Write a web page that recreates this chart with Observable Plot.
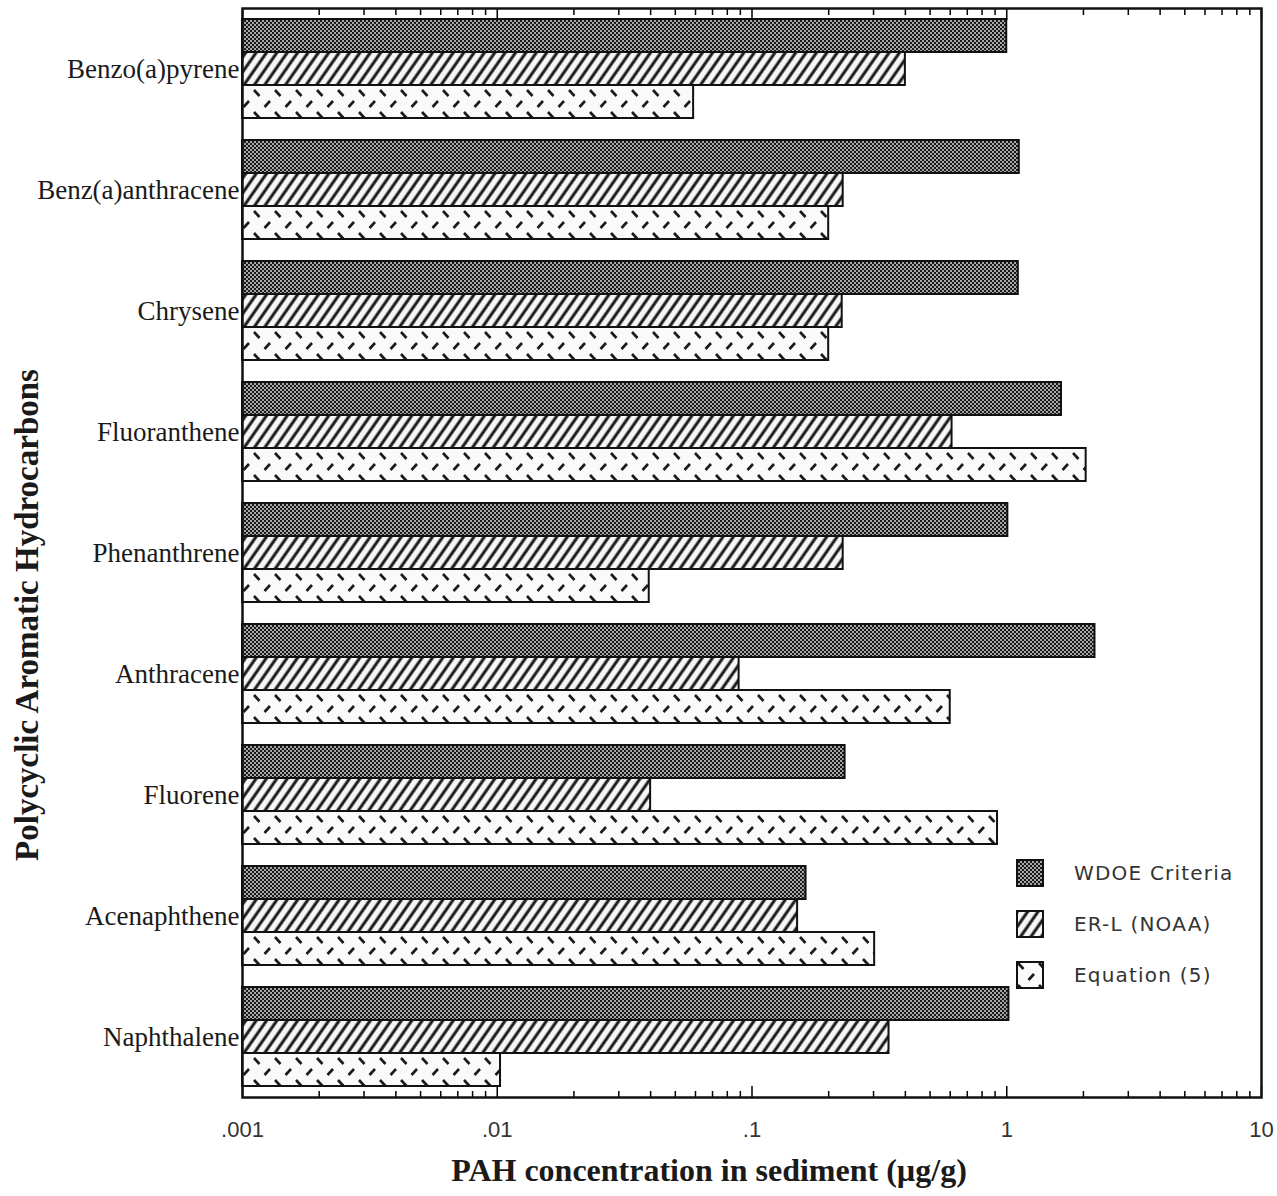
<!DOCTYPE html>
<html>
<head>
<meta charset="utf-8">
<script src="https://cdn.jsdelivr.net/npm/d3@7"></script>
<script src="https://cdn.jsdelivr.net/npm/@observablehq/plot@0.6"></script>
<style>
  body { margin: 0; background: #fff; }
  #wrap { position: relative; width: 1277px; height: 1196px; }
  #legend { position: absolute; left: 1016px; top: 847px; font-family: "DejaVu Sans", sans-serif; font-size: 20px; color: #333; letter-spacing: 1.2px; }
  .item { display: flex; align-items: center; height: 51px; }
  .item svg { margin-right: 30px; }
</style>
</head>
<body>
<svg width="0" height="0" style="position:absolute">
  <defs>
    <pattern id="pWDOE" patternUnits="userSpaceOnUse" width="4" height="4">
      <rect width="4" height="4" fill="#a6a6a6"></rect>
      <rect x="0" y="0" width="2" height="2" fill="#1a1a1a"></rect>
      <rect x="2" y="2" width="2" height="2" fill="#1a1a1a"></rect>
    </pattern>
    <pattern id="pERL" patternUnits="userSpaceOnUse" width="8.5" height="8.5" patternTransform="rotate(35)">
      <rect width="8.5" height="8.5" fill="#f6f6f6"></rect>
      <line x1="2" y1="0" x2="2" y2="8.5" stroke="#1a1a1a" stroke-width="3"></line>
    </pattern>
    <pattern id="pEQ" patternUnits="userSpaceOnUse" width="21" height="22">
      <rect width="21" height="22" fill="#fafafa"></rect>
      <line x1="2" y1="2" x2="7.5" y2="8" stroke="#1a1a1a" stroke-width="2.6"></line>
      <line x1="12.5" y1="19" x2="18" y2="13" stroke="#1a1a1a" stroke-width="2.6"></line>
    </pattern>
  </defs>
</svg>
<div id="wrap"></div>
<script>
// ---- data ----
const categories = ["Benzo(a)pyrene", "Benz(a)anthracene", "Chrysene", "Fluoranthene", "Phenanthrene", "Anthracene", "Fluorene", "Acenaphthene", "Naphthalene"];
const series = ["WDOE Criteria", "ER-L (NOAA)", "Equation (5)"];
const wdoe = [1.0, 1.12, 1.11, 1.64, 1.01, 2.22, 0.232, 0.163, 1.02];
const erl  = [0.40, 0.228, 0.226, 0.61, 0.228, 0.089, 0.040, 0.151, 0.345];
const eq5  = [0.059, 0.20, 0.20, 2.05, 0.0395, 0.60, 0.92, 0.303, 0.0103];
const xDomain = [0.001, 10];
const xTicks = [0.001, 0.01, 0.1, 1, 10];
const xTickLabels = [".001", ".01", ".1", "1", "10"];
const patterns = ["url(#pWDOE)", "url(#pERL)", "url(#pEQ)"];

const values = [wdoe, erl, eq5];
const data = categories.flatMap((c, i) => series.map((s, j) => ({category: c, series: s, value: values[j][i]})));
const minorTicks = d3.scaleLog().domain(xDomain).ticks().filter(t => !xTicks.some(m => Math.abs(m - t) / m < 1e-9));

const serif = "Liberation Serif, Times New Roman, serif";
const chart = Plot.plot({
  width: 1277,
  height: 1196,
  marginLeft: 242,
  marginRight: 16,
  marginTop: 8,
  marginBottom: 99,
  style: {background: "#fff", overflow: "visible"},
  x: {type: "log", domain: xDomain, axis: null, label: null},
  y: {domain: series, paddingInner: 0, paddingOuter: 0.306, axis: null, label: null},
  fy: {domain: categories, padding: 0, axis: null, label: null},
  color: {domain: series, range: patterns},
  marks: [
    Plot.barX(data, {fy: "category", y: "series", x1: xDomain[0], x2: "value", fill: "series", stroke: "#111", strokeWidth: 2}),
    Plot.axisFy({anchor: "left", tickSize: 0, tickPadding: 3, fontSize: 27, fontFamily: serif, fill: "#1a1a1a", label: null}),
    Plot.axisX(minorTicks, {anchor: "bottom", tickSize: -6, tickFormat: () => "", strokeWidth: 1.5, label: null}),
    Plot.axisX(xTicks, {anchor: "bottom", tickSize: -11, tickFormat: () => "", strokeWidth: 1.5, label: null}),
    Plot.axisX(minorTicks, {anchor: "top", tickSize: -6, tickFormat: () => "", strokeWidth: 1.5, label: null}),
    Plot.axisX(xTicks, {anchor: "top", tickSize: -11, tickFormat: () => "", strokeWidth: 1.5, label: null}),
    Plot.axisX(xTicks, {anchor: "bottom", tickSize: 0, tickPadding: 24, tickFormat: d => xTickLabels[xTicks.indexOf(d)], fontSize: 22, fontFamily: "Liberation Sans, Arial, sans-serif", fill: "#333", label: null}),
    Plot.frame({facet: "super", stroke: "#111", strokeWidth: 2.5}),
    Plot.text(["PAH concentration in sediment (µg/g)"], {facet: "super", frameAnchor: "bottom", dy: 73, dx: -43, fontSize: 32, fontWeight: "bold", fontFamily: serif, fill: "#1a1a1a", textAnchor: "middle", lineAnchor: "middle"}),
    Plot.text(["Polycyclic Aromatic Hydrocarbons"], {facet: "super", frameAnchor: "left", rotate: -90, dx: -215, dy: 62, fontSize: 33, fontWeight: "bold", fontFamily: serif, fill: "#1a1a1a", textAnchor: "middle", lineAnchor: "middle"})
  ]
});
const wrap = document.getElementById("wrap");
wrap.appendChild(chart);

// legend
const legend = document.createElement("div");
legend.id = "legend";
series.forEach((s, j) => {
  const item = document.createElement("div");
  item.className = "item";
  item.innerHTML = `<svg width="28" height="28"><rect x="1" y="1" width="26" height="26" fill="${patterns[j]}" stroke="#111" stroke-width="2"></rect></svg><span>${s}</span>`;
  legend.appendChild(item);
});
wrap.appendChild(legend);
</script>
</body>
</html>
